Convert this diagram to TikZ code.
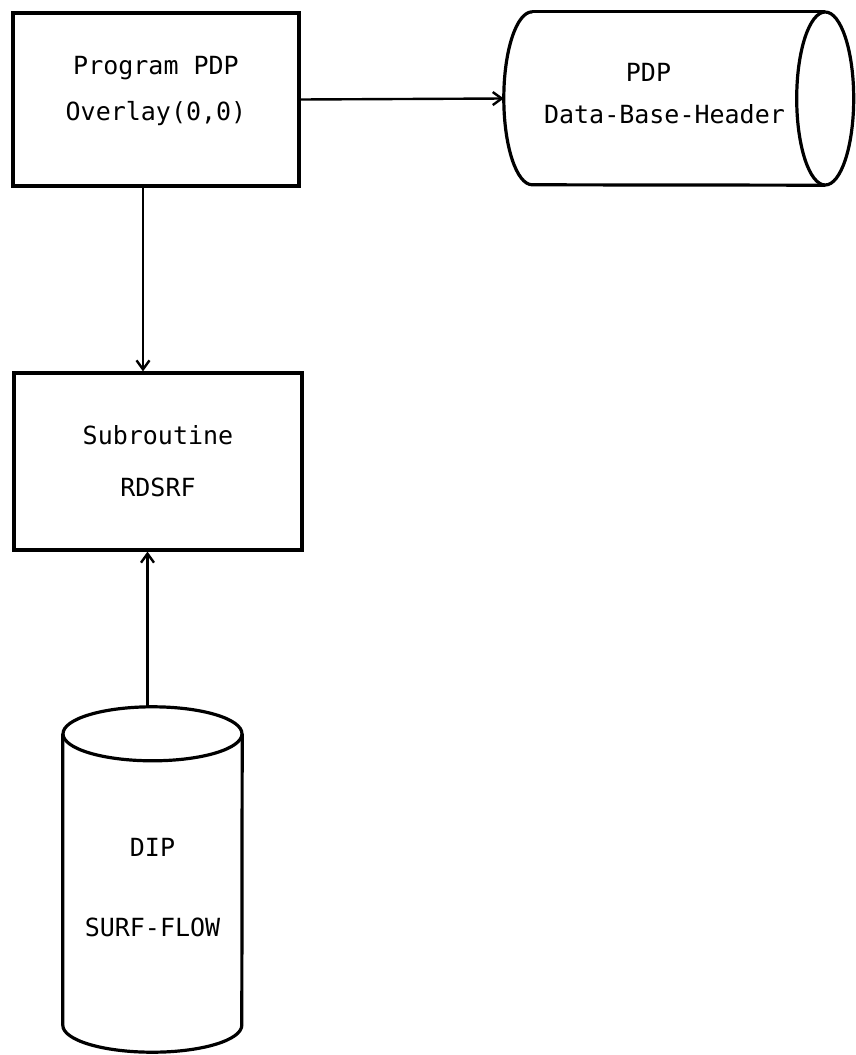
\documentclass[tikz,border=0pt]{standalone}
\usepackage{fontspec}
\setmonofont{DejaVu Sans Mono}
\usetikzlibrary{arrows.meta,positioning,calc}
\tikzset{
  label text/.style={align=center, font=\ttfamily\fontsize{25}{30}\selectfont},
  procbox/.style={label text, draw, line width=3.2pt},
  store/.style={label text, inner sep=0pt},
  outline/.style={line width=3.2pt},
  arrow/.style={-{Straight Barb[length=9pt,width=13pt,line width=2.4pt]}, line width=2.4pt}
}
\begin{document}
\begin{tikzpicture}[x=1pt, y=1pt]
  \useasboundingbox (0,0) rectangle (855,-1055);
  \node[procbox, minimum width=286pt, minimum height=173pt, text depth=22pt] (prog) at (156,-99.5)
    {Program PDP\\[16pt] Overlay(0,0)};
  \node[procbox, minimum width=288pt, minimum height=177pt] (sub) at (158,-461.5)
    {Subroutine\\[22pt] RDSRF};
  \node[store, minimum width=321pt, minimum height=173pt, text depth=10pt] (hdr) at (664.5,-98.5)
    {PDP\hspace*{32pt}\\[12pt] Data-Base-Header};
  \node[store, minimum width=179pt, minimum height=345pt, text height=114pt] (dip) at (152.5,-879.5)
    {DIP\\[50pt] SURF-FLOW};
  % cylinder outlines
  \draw[outline] ($(hdr.north west)+(28.5,0)$) -- (hdr.north east);
  \draw[outline] (hdr.east) ellipse[x radius=28.5, y radius=86.5];
  \draw[outline] ($(hdr.north west)+(28.5,0)$)
    arc[start angle=90, end angle=270, x radius=28.5, y radius=86.5] -- (hdr.south east);
  \draw[outline] ($(dip.north)+(0,-27)$) ellipse[x radius=89.5, y radius=27];
  \draw[outline] ($(dip.north west)+(0,-27)$) -- ($(dip.south west)+(0,27)$)
    arc[start angle=180, end angle=360, x radius=89.5, y radius=27] -- ($(dip.north east)+(0,-27)$);
  % connectors
  \draw[arrow] (prog.east) -- (hdr.west);
  \draw[arrow] ([xshift=-13pt]prog.south) -- ([xshift=-13pt]prog.south |- sub.north);
  \draw[arrow] ([xshift=-5pt]dip.north) -- ([xshift=-5pt]dip.north |- sub.south);
\end{tikzpicture}
\end{document}
